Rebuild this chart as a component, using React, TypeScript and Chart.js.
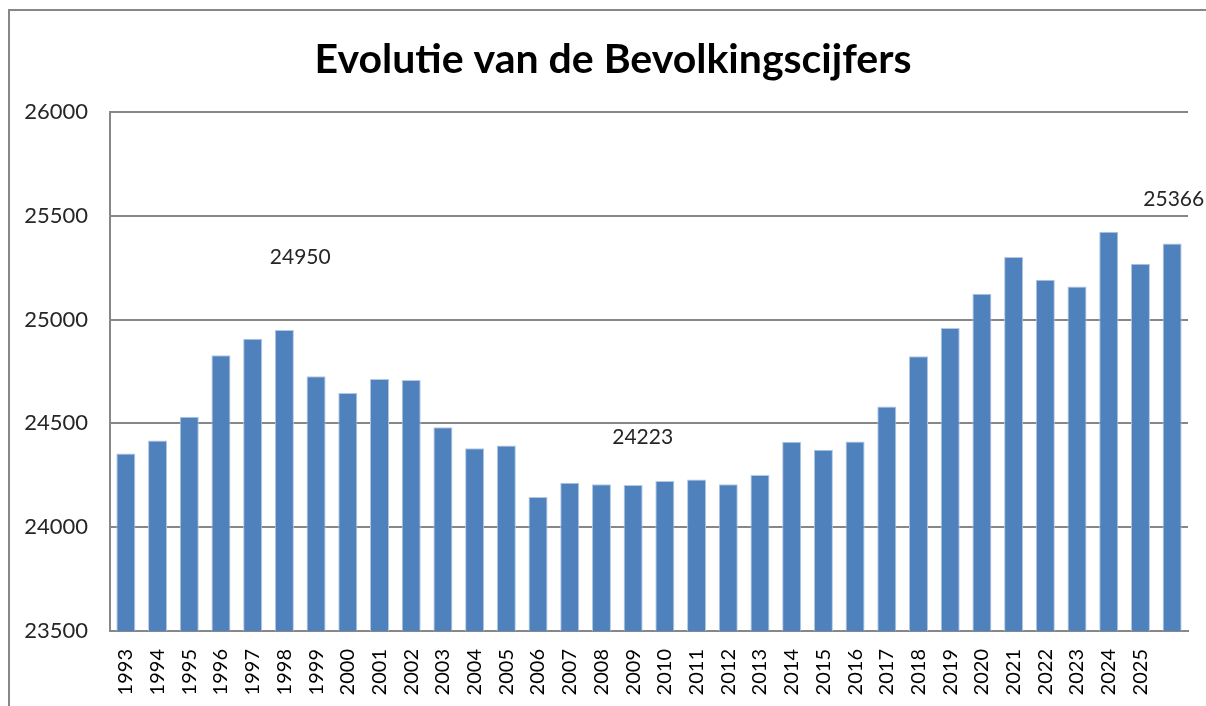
import React, { useEffect, useRef } from "react";
import { Chart, registerables } from "chart.js";

Chart.register(...registerables);

const years = [
  "1993", "1994", "1995", "1996", "1997", "1998", "1999", "2000", "2001", "2002",
  "2003", "2004", "2005", "2006", "2007", "2008", "2009", "2010", "2011", "2012",
  "2013", "2014", "2015", "2016", "2017", "2018", "2019", "2020", "2021", "2022",
  "2023", "2024", "2025", "",
];

const population = [
  24355, 24418, 24532, 24828, 24908, 24950, 24727, 24647, 24714, 24709,
  24481, 24380, 24394, 24145, 24214, 24207, 24203, 24223, 24230, 24207,
  24252, 24412, 24373, 24413, 24582, 24824, 24960, 25124, 25302, 25192,
  25159, 25423, 25269, 25366,
];

const titleText = "Evolutie van de Bevolkingscijfers";
const yMin = 23500;
const yMax = 26000;
const yStep = 500;

// floating data labels (text, category position, value position)
const labelTexts = ["24950", "24223", "25366"];
const labelIndex = [5.5, 16.3, 33.05];
const labelValue = [25300, 24435, 25580];

const FONT = "Lato, 'Open Sans', sans-serif";

const floatingLabels = {
  id: "floatingLabels",
  afterDatasetsDraw(chart: any) {
    const { ctx, scales } = chart;
    const xs = scales.x;
    const ys = scales.y;
    const step = xs.getPixelForValue(1) - xs.getPixelForValue(0);
    ctx.save();
    ctx.font = `21px ${FONT}`;
    ctx.fillStyle = "#262626";
    ctx.textAlign = "center";
    ctx.textBaseline = "middle";
    labelTexts.forEach((t, i) => {
      const x = xs.getPixelForValue(0) + step * labelIndex[i];
      const y = ys.getPixelForValue(labelValue[i]);
      ctx.fillText(t, x, y);
    });
    ctx.restore();
  },
};

const frameAndTitle = {
  id: "frameAndTitle",
  beforeDraw(chart: any) {
    const { ctx, width, height } = chart;
    ctx.save();
    ctx.fillStyle = "#ffffff";
    ctx.fillRect(0, 0, width, height);
    ctx.strokeStyle = "#878787";
    ctx.lineWidth = 2;
    ctx.beginPath();
    ctx.moveTo(9, height + 2);
    ctx.lineTo(9, 10);
    ctx.lineTo(width + 2, 10);
    ctx.stroke();
    ctx.font = `bold 41px ${FONT}`;
    ctx.fillStyle = "#000000";
    ctx.textAlign = "center";
    ctx.textBaseline = "alphabetic";
    ctx.fillText(titleText, width / 2 + 10, 73);
    ctx.restore();
  },
};

export default function App() {
  const ref = useRef<HTMLCanvasElement>(null);

  useEffect(() => {
    document.body.style.margin = "0";
    const chart = new Chart(ref.current as HTMLCanvasElement, {
      type: "bar",
      data: {
        labels: years,
        datasets: [
          {
            label: "Bevolking",
            data: population,
            backgroundColor: "#4F81BD",
            borderColor: "#B3C8E2",
            borderWidth: 1,
            barPercentage: 0.6,
            categoryPercentage: 1,
          },
        ],
      },
      options: {
        animation: false,
        responsive: false,
        maintainAspectRatio: false,
        layout: { padding: { left: 8, right: 18, top: 112, bottom: 0 } },
        plugins: {
          legend: { display: false },
          tooltip: { enabled: false },
          title: { display: false },
        },
        scales: {
          x: {
            offset: true,
            grid: { display: false, drawTicks: false },
            border: { display: true, color: "#878787", width: 2 },
            ticks: {
              color: "#000000",
              font: { family: FONT, size: 20 },
              minRotation: 90,
              maxRotation: 90,
              autoSkip: false,
              padding: 18,
            },
            afterFit(scale: any) {
              scale.height = 75;
              scale.paddingLeft = 0;
              scale.paddingRight = 0;
            },
          },
          y: {
            min: yMin,
            max: yMax,
            ticks: {
              stepSize: yStep,
              color: "#262626",
              font: { family: FONT, size: 22 },
              padding: 22,
              callback: (v: any) => String(v),
            },
            grid: { color: "#878787", lineWidth: 2, drawTicks: false },
            border: { display: true, color: "#878787", width: 2 },
            afterFit(scale: any) {
              scale.width = 102;
            },
          },
        },
      },
      plugins: [frameAndTitle, floatingLabels],
    });
    return () => chart.destroy();
  }, []);

  return (
    <div style={{ position: "relative", width: 1206, height: 706 }}>
      <canvas ref={ref} width={1206} height={706} style={{ display: "block" }} />
    </div>
  );
}
